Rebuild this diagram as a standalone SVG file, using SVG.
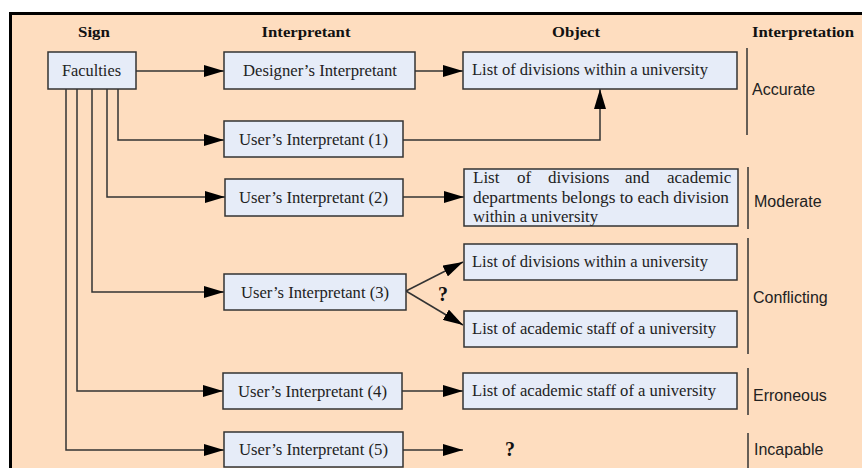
<svg xmlns="http://www.w3.org/2000/svg" width="862" height="468" viewBox="0 0 862 468">
<style>
.bg{fill:#FEDDBF;stroke:#000;stroke-width:3}
.node{fill:#E6ECF8;stroke:#333;stroke-width:1.5}
.lbl{font-family:"Liberation Serif","Times New Roman",serif;font-size:17px;fill:#222}
.hdr{font-family:"Liberation Serif","Times New Roman",serif;font-size:15px;font-weight:bold;fill:#111;text-anchor:middle}
.cat{font-family:"Liberation Sans",Arial,sans-serif;font-size:16px;fill:#222}
.q{font-family:"Liberation Serif","Times New Roman",serif;font-size:20px;font-weight:bold;fill:#111}
.con{fill:none;stroke:#333;stroke-width:1.5}
.sep{stroke:#333;stroke-width:1.5}
</style>
<defs>
<marker id="ah" markerUnits="userSpaceOnUse" markerWidth="20" markerHeight="12" refX="20" refY="6" orient="auto">
<path d="M0,0 L20,6 L0,12 Z" fill="#000"/>
</marker>
</defs>
<rect class="bg" x="10.5" y="13.5" width="870" height="470"/>
<g id="headers">
<text class="hdr" x="94" y="37" textLength="32" lengthAdjust="spacingAndGlyphs">Sign</text>
<text class="hdr" x="306" y="37" textLength="89" lengthAdjust="spacingAndGlyphs">Interpretant</text>
<text class="hdr" x="576" y="37" textLength="48" lengthAdjust="spacingAndGlyphs">Object</text>
<text class="hdr" x="803" y="37" textLength="102" lengthAdjust="spacingAndGlyphs">Interpretation</text>
</g>
<g id="connectors">
<path class="con" d="M136,71 H224" marker-end="url(#ah)"/>
<path class="con" d="M118,89 V140 H224" marker-end="url(#ah)"/>
<path class="con" d="M107,89 V197 H225" marker-end="url(#ah)"/>
<path class="con" d="M92,89 V292 H224" marker-end="url(#ah)"/>
<path class="con" d="M77,89 V391 H223" marker-end="url(#ah)"/>
<path class="con" d="M66,89 V450 H224" marker-end="url(#ah)"/>
<path class="con" d="M415,71 H463" marker-end="url(#ah)"/>
<path class="con" d="M403,140 H600 V89" marker-end="url(#ah)"/>
<path class="con" d="M403,197 H464" marker-end="url(#ah)"/>
<path class="con" d="M406,291 L463,262" marker-end="url(#ah)"/>
<path class="con" d="M406,291 L463,325" marker-end="url(#ah)"/>
<path class="con" d="M402,391 H463" marker-end="url(#ah)"/>
<path class="con" d="M403,450 H463" marker-end="url(#ah)"/>
</g>
<g id="sign">
<rect class="node" x="48" y="52" width="88" height="37"/>
<text class="lbl" x="62" y="76" textLength="59" lengthAdjust="spacingAndGlyphs">Faculties</text>
</g>
<g id="designer">
<rect class="node" x="224" y="52" width="191" height="37"/>
<text class="lbl" x="243" y="76" textLength="154" lengthAdjust="spacingAndGlyphs">Designer’s Interpretant</text>
</g>
<g id="user1">
<rect class="node" x="224" y="121" width="179" height="36"/>
<text class="lbl" x="239" y="145" textLength="149" lengthAdjust="spacingAndGlyphs">User’s Interpretant (1)</text>
</g>
<g id="user2">
<rect class="node" x="225" y="179" width="178" height="37"/>
<text class="lbl" x="239" y="203" textLength="149" lengthAdjust="spacingAndGlyphs">User’s Interpretant (2)</text>
</g>
<g id="user3">
<rect class="node" x="224" y="274" width="182" height="36"/>
<text class="lbl" x="241" y="298" textLength="148" lengthAdjust="spacingAndGlyphs">User’s Interpretant (3)</text>
</g>
<g id="user4">
<rect class="node" x="223" y="373" width="179" height="36"/>
<text class="lbl" x="238" y="397" textLength="149" lengthAdjust="spacingAndGlyphs">User’s Interpretant (4)</text>
</g>
<g id="user5">
<rect class="node" x="224" y="432" width="179" height="35"/>
<text class="lbl" x="239" y="455" textLength="149" lengthAdjust="spacingAndGlyphs">User’s Interpretant (5)</text>
</g>
<g id="obj1">
<rect class="node" x="463" y="52" width="274" height="37"/>
<text class="lbl" x="472" y="75" textLength="236" lengthAdjust="spacingAndGlyphs">List of divisions within a university</text>
</g>
<g id="obj2">
<rect class="node" x="464" y="169" width="274" height="57"/>
<text class="lbl" y="183"><tspan x="473">List</tspan><tspan x="517">of</tspan><tspan x="548">divisions</tspan><tspan x="625">and</tspan><tspan x="667">academic</tspan></text>
<text class="lbl" x="473" y="203" textLength="256" lengthAdjust="spacingAndGlyphs">departments belongs to each division</text>
<text class="lbl" x="473" y="222" textLength="125" lengthAdjust="spacingAndGlyphs">within a university</text>
</g>
<g id="obj3">
<rect class="node" x="464" y="244" width="273" height="36"/>
<text class="lbl" x="472" y="267" textLength="236" lengthAdjust="spacingAndGlyphs">List of divisions within a university</text>
</g>
<g id="obj4">
<rect class="node" x="464" y="311" width="273" height="36"/>
<text class="lbl" x="472" y="334" textLength="244" lengthAdjust="spacingAndGlyphs">List of academic staff of a university</text>
</g>
<g id="obj5">
<rect class="node" x="463" y="373" width="274" height="36"/>
<text class="lbl" x="472" y="396" textLength="244" lengthAdjust="spacingAndGlyphs">List of academic staff of a university</text>
</g>
<g id="questions">
<text class="q" x="438" y="301">?</text>
<text class="q" x="505" y="456">?</text>
</g>
<g id="interpretations">
<line class="sep" x1="747" y1="48" x2="747" y2="135"/>
<text class="cat" x="752" y="95">Accurate</text>
<line class="sep" x1="748" y1="167" x2="748" y2="229"/>
<text class="cat" x="754" y="207">Moderate</text>
<line class="sep" x1="748" y1="238" x2="748" y2="354"/>
<text class="cat" x="753" y="303">Conflicting</text>
<line class="sep" x1="748" y1="368" x2="748" y2="415"/>
<text class="cat" x="753" y="401">Erroneous</text>
<line class="sep" x1="748" y1="433" x2="748" y2="470"/>
<text class="cat" x="754" y="455">Incapable</text>
</g>
</svg>
